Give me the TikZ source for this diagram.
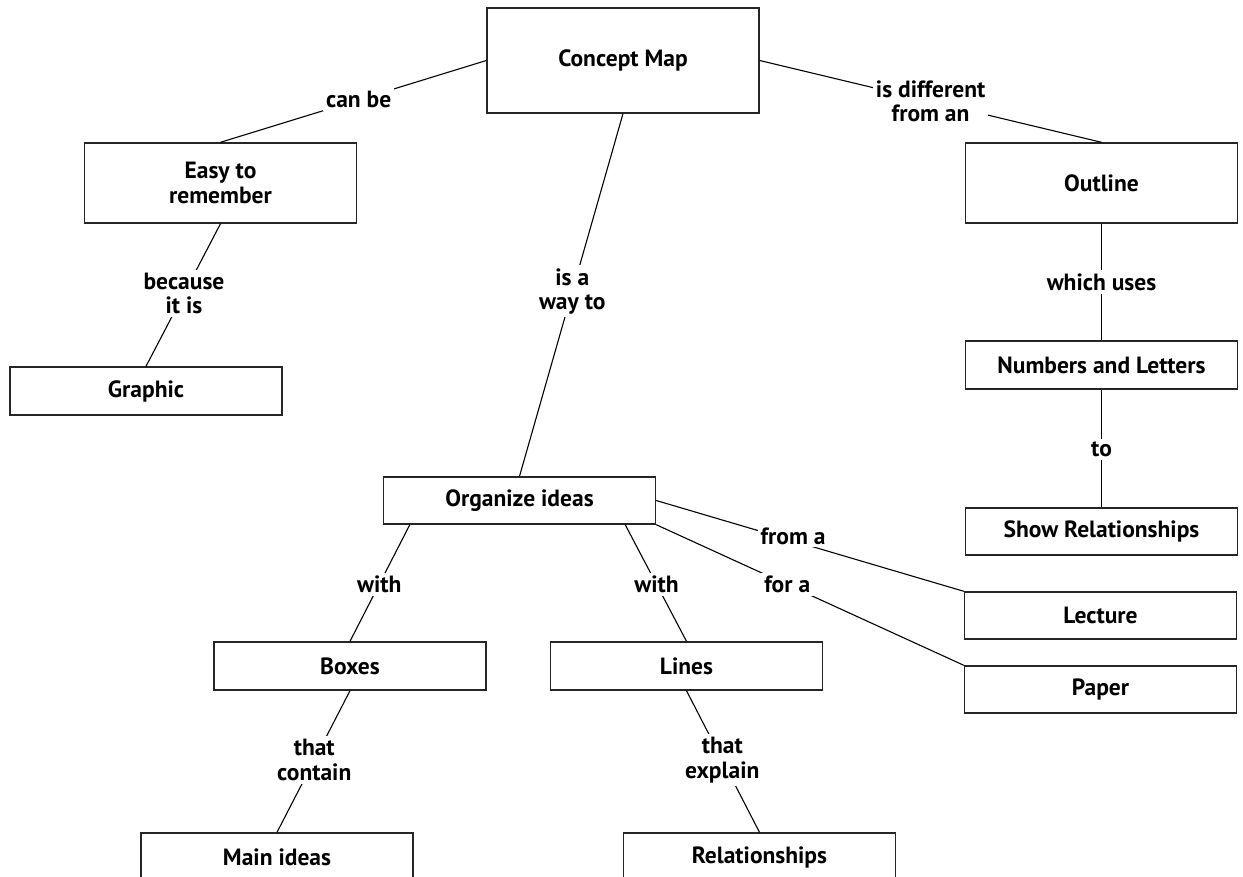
\documentclass[tikz,border=0pt]{standalone}
\usepackage{fontspec}
\setmainfont{PT Sans}
\begin{document}
\begin{tikzpicture}[x=1pt,y=-1pt,
  box/.style={draw=black!85, line width=1.4pt, minimum width=272pt, inner sep=0pt, align=center, font=\fontsize{23.5}{25}\selectfont\bfseries},
  lbl/.style={fill=white, inner sep=3pt, align=center, font=\fontsize{23.5}{24.5}\selectfont\bfseries},
  conn/.style={draw=black, line width=1.1pt}]
\useasboundingbox (0,0) rectangle (1243,876);
\clip (0,0) rectangle (1243,876);
% boxes
\node[box, minimum height=105pt] (cm) at (623,60.5) {Concept Map};
\node[box, minimum height=80pt] (easy) at (220.5,183) {Easy to\\remember};
\node[box, minimum height=80pt] (outline) at (1101.5,183) {Outline};
\node[box, minimum height=48pt] (graphic) at (146,391) {Graphic};
\node[box, minimum height=48pt] (numbers) at (1101.5,365) {Numbers and Letters};
\node[box, minimum height=47pt] (show) at (1101.5,531.5) {Show Relationships};
\node[box, minimum height=47pt] (org) at (519.5,500.5) {Organize ideas};
\node[box, minimum height=47pt] (lecture) at (1100.5,615.5) {Lecture};
\node[box, minimum height=47pt] (paper) at (1100.5,689.5) {Paper};
\node[box, minimum height=48pt] (boxes) at (350,666) {Boxes};
\node[box, minimum height=48pt] (lines) at (686.5,666) {Lines};
\node[box, minimum height=48pt] (main) at (277,857) {Main ideas};
\node[box, minimum height=48pt] (rel) at (759.5,857) {Relationships};
% connectors
\draw[conn] (cm.west) -- node[lbl, pos=0.48] (l1) {can be} (easy.north);
\draw[conn] (cm.east) -- node[lbl, pos=0.5] (l2) {is different\\from an} (outline.north);
\draw[conn] (cm.south) -- node[lbl, pos=0.49] (l3) {is a\\way to} (org.north);
\draw[conn] (easy.south) -- node[lbl, pos=0.49] (l4) {because\\it is} (graphic.north);
\draw[conn] (outline.south) -- node[lbl, pos=0.5] (l5) {which uses} (numbers.north);
\draw[conn] (numbers.south) -- node[lbl, pos=0.51] (l6) {to} (show.north);
\draw[conn] ([xshift=27pt]org.south west) -- node[lbl, pos=0.51] (l7) {with} (boxes.north);
\draw[conn] ([xshift=-31pt]org.south east) -- node[lbl, pos=0.51] (l8) {with} (lines.north);
\draw[conn] (org.east) -- node[lbl, pos=0.445, yshift=5pt] (l9) {from a} (lecture.north west);
\draw[conn] (org.south east) -- node[lbl, pos=0.426] (l10) {for a} (paper.north west);
\draw[conn] (boxes.south) -- node[lbl, pos=0.49] (l11) {that\\contain} (main.north);
\draw[conn] (lines.south) -- node[lbl, pos=0.49] (l12) {that\\explain} (rel.north);
\end{tikzpicture}
\end{document}
